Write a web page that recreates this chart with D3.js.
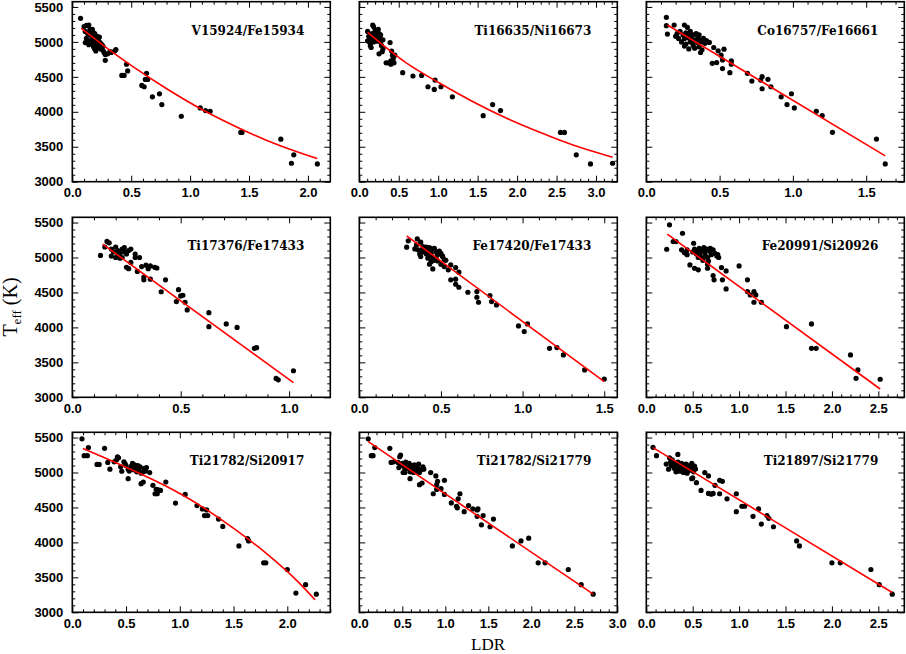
<!DOCTYPE html>
<html><head><meta charset="utf-8">
<script src="https://cdn.jsdelivr.net/npm/d3@7"></script>
<style>body{margin:0;background:#fff}</style>
</head><body>
<svg id="c" width="906" height="654"></svg>
<script>
// ---------- data ----------
const panelNames = ["V15924/Fe15934","Ti16635/Ni16673","Co16757/Fe16661",
  "Ti17376/Fe17433","Fe17420/Fe17433","Fe20991/Si20926",
  "Ti21782/Si20917","Ti21782/Si21779","Ti21897/Si21779"];
const xMax = [2.19, 3.27, 1.76, 1.19, 1.58, 2.78, 2.4, 3.0, 2.78];
const yTickLabels = [3000,3500,4000,4500,5000,5500];
const xTickLabels = [
  [0,0.5,1,1.5,2],[0,0.5,1,1.5,2,2.5,3],[0,0.5,1,1.5],
  [0,0.5,1],[0,0.5,1,1.5],[0,0.5,1,1.5,2,2.5],
  [0,0.5,1,1.5,2],[0,0.5,1,1.5,2,2.5,3],[0,0.5,1,1.5,2,2.5]];

const pts1 = [[0.07,5337],[0.10,5220],[0.12,5235],[0.14,5240],[0.11,5150],[0.13,5120],[0.15,5100],[0.16,5140],[0.17,5080],[0.18,5130],[0.19,5060],[0.20,5050],[0.21,5080],[0.22,5020],[0.23,5000],[0.24,4980],[0.25,4960],[0.12,5050],[0.13,4990],[0.14,4960],[0.15,5020],[0.16,5000],[0.17,4970],[0.18,4930],[0.19,4900],[0.20,4870],[0.22,4920],[0.24,4900],[0.26,4880],[0.27,4850],[0.28,4820],[0.30,4830],[0.32,4860],[0.26,4940],[0.18,5010],[0.20,4990],[0.21,4960],[0.11,4990],[0.23,5070],[0.19,5120],[0.17,5180],[0.15,5180],[0.28,4737],[0.33,4850],[0.36,4870],[0.37,4890],[0.42,4521],[0.44,4521],[0.46,4680],[0.47,4584],[0.59,4377],[0.61,4358],[0.62,4463],[0.63,4550],[0.64,4463],[0.68,4214],[0.74,4257],[0.76,4104],[0.925,3936],[1.086,4056],[1.13,4017],[1.17,4008],[1.43,3705],[1.44,3705],[1.77,3609],[1.86,3264],[1.88,3384],[2.08,3254]];
const pts2 = [[0.105,5150],[0.105,5015],[0.12,5080],[0.13,5000],[0.14,4950],[0.15,4920],[0.15,5060],[0.16,5120],[0.17,5240],[0.18,5220],[0.19,5100],[0.20,5050],[0.20,5170],[0.21,5130],[0.22,5080],[0.23,5150],[0.24,5180],[0.25,5120],[0.26,5060],[0.27,5000],[0.28,4950],[0.25,4830],[0.29,4860],[0.30,4900],[0.30,5030],[0.27,5100],[0.22,5010],[0.18,5000],[0.34,4700],[0.37,4700],[0.39,4990],[0.40,4730],[0.41,4870],[0.42,4810],[0.40,4680],[0.43,4760],[0.44,4700],[0.45,4810],[0.55,4560],[0.68,4512],[0.79,4521],[0.87,4358],[0.95,4320],[0.96,4454],[1.035,4358],[1.18,4214],[1.57,3945],[1.69,4104],[1.79,4017],[2.55,3705],[2.60,3705],[2.75,3384],[2.93,3254],[3.21,3264]];
const pts3 = [[0.137,5352],[0.137,5232],[0.144,5112],[0.19,5242],[0.26,5242],[0.28,5208],[0.20,5080],[0.21,5120],[0.22,5050],[0.23,5150],[0.24,5000],[0.25,5100],[0.26,5050],[0.27,5130],[0.27,4970],[0.28,5060],[0.29,5100],[0.30,5000],[0.30,5150],[0.31,5050],[0.32,4950],[0.32,5100],[0.33,5020],[0.34,5120],[0.35,5060],[0.35,4990],[0.36,5100],[0.37,5030],[0.38,5000],[0.39,5050],[0.40,4980],[0.41,5020],[0.29,4900],[0.26,4940],[0.33,4910],[0.36,4930],[0.37,4848],[0.38,4886],[0.43,4992],[0.46,4920],[0.45,4694],[0.48,4704],[0.49,4872],[0.51,4810],[0.52,4742],[0.53,4896],[0.52,4618],[0.57,4560],[0.58,4728],[0.58,4680],[0.69,4550],[0.72,4440],[0.78,4454],[0.79,4502],[0.79,4330],[0.83,4464],[0.85,4358],[0.92,4214],[0.96,4104],[0.99,4258],[1.01,4056],[1.16,4008],[1.20,3946],[1.27,3706],[1.57,3610],[1.63,3254]];
const pts4 = [[0.13,5030],[0.15,5150],[0.16,5230],[0.17,5210],[0.18,5120],[0.18,5020],[0.19,5080],[0.20,5000],[0.20,5150],[0.21,5100],[0.21,5030],[0.22,4990],[0.22,5060],[0.23,5120],[0.23,5000],[0.24,5080],[0.24,5140],[0.25,5050],[0.25,4860],[0.26,4840],[0.26,5100],[0.27,5120],[0.27,4930],[0.29,5000],[0.29,5050],[0.30,4800],[0.31,5000],[0.32,4870],[0.33,4720],[0.33,4680],[0.34,4890],[0.35,4840],[0.36,4690],[0.36,4880],[0.38,4860],[0.39,4850],[0.41,4510],[0.43,4680],[0.48,4370],[0.49,4540],[0.50,4450],[0.51,4460],[0.52,4360],[0.53,4250],[0.63,4210],[0.63,4010],[0.71,4050],[0.76,4000],[0.84,3700],[0.85,3710],[0.94,3270],[0.95,3250],[1.02,3380]];
const pts5 = [[0.29,5147],[0.30,5238],[0.34,5123],[0.355,5266],[0.376,5219],[0.36,5109],[0.386,5109],[0.39,5157],[0.376,5013],[0.39,5080],[0.40,5120],[0.41,5050],[0.42,5100],[0.42,4990],[0.43,5140],[0.44,5060],[0.45,5120],[0.45,5000],[0.46,5130],[0.46,4960],[0.47,5080],[0.48,5040],[0.48,4950],[0.49,5090],[0.50,5060],[0.51,5020],[0.52,4970],[0.53,4960],[0.44,4940],[0.47,4990],[0.41,5150],[0.43,5030],[0.37,5050],[0.35,5180],[0.43,4904],[0.45,4837],[0.50,4904],[0.51,5013],[0.52,4870],[0.545,4823],[0.56,4894],[0.59,4856],[0.61,4790],[0.56,4680],[0.59,4690],[0.59,4617],[0.61,4574],[0.665,4503],[0.72,4512],[0.72,4431],[0.73,4360],[0.80,4455],[0.81,4369],[0.84,4321],[0.975,4021],[1.01,3940],[1.03,4050],[1.165,3700],[1.21,3711],[1.25,3606],[1.38,3391],[1.50,3262]];
const pts6 = [[0.22,5118],[0.25,5467],[0.29,5228],[0.32,5228],[0.39,5347],[0.38,5110],[0.41,5070],[0.43,5060],[0.44,5109],[0.47,4894],[0.51,5204],[0.52,4846],[0.56,4823],[0.50,5080],[0.52,5120],[0.54,5050],[0.55,5100],[0.57,5130],[0.58,5060],[0.60,5000],[0.60,5110],[0.62,5140],[0.63,5070],[0.64,5020],[0.65,5120],[0.66,5000],[0.68,5090],[0.69,5130],[0.70,5040],[0.72,5110],[0.74,5060],[0.76,5020],[0.78,5000],[0.77,5040],[0.56,5000],[0.61,4960],[0.67,4950],[0.44,5040],[0.66,4846],[0.66,4904],[0.72,4741],[0.73,4680],[0.81,4856],[0.82,4680],[0.86,4808],[0.86,4550],[1.00,4880],[1.09,4680],[1.09,4512],[1.12,4465],[1.16,4512],[1.18,4465],[1.16,4360],[1.24,4360],[1.51,4011],[1.78,4050],[1.78,3700],[1.83,3700],[2.20,3606],[2.28,3391],[2.26,3272],[2.52,3258]];
const pts7 = [[0.09,5481],[0.11,5240],[0.14,5240],[0.15,5356],[0.23,5115],[0.25,5115],[0.30,5346],[0.33,5144],[0.35,5047],[0.39,5153],[0.41,5177],[0.42,5225],[0.43,5210],[0.45,5081],[0.46,5018],[0.48,5153],[0.49,5129],[0.52,4912],[0.52,5047],[0.55,5090],[0.57,5040],[0.58,5110],[0.59,5070],[0.60,5010],[0.61,5100],[0.62,5050],[0.63,5080],[0.64,4990],[0.50,5100],[0.53,5020],[0.56,5130],[0.66,5010],[0.68,5020],[0.64,4840],[0.66,4864],[0.67,5060],[0.69,5070],[0.72,4999],[0.75,4816],[0.77,4696],[0.79,4696],[0.78,4760],[0.80,4750],[0.82,4743],[0.87,4864],[0.96,4563],[1.05,4686],[1.16,4527],[1.21,4479],[1.23,4383],[1.26,4383],[1.25,4464],[1.36,4334],[1.40,4229],[1.55,3949],[1.63,4055],[1.64,4021],[1.78,3708],[1.80,3708],[2.00,3612],[2.08,3275],[2.17,3395],[2.27,3260]];
const pts8 = [[0.104,5481],[0.14,5240],[0.16,5240],[0.18,5356],[0.355,5346],[0.37,5144],[0.40,5153],[0.45,5144],[0.47,5225],[0.48,5250],[0.50,5130],[0.52,5090],[0.54,5150],[0.55,5060],[0.56,5110],[0.57,5080],[0.58,5130],[0.60,5040],[0.60,5100],[0.62,5070],[0.63,5000],[0.64,5110],[0.65,5050],[0.66,5090],[0.67,5020],[0.68,5060],[0.70,5000],[0.72,5040],[0.74,5080],[0.53,5000],[0.59,5010],[0.69,5120],[0.48,5100],[0.46,5070],[0.51,5000],[0.53,5050],[0.59,4912],[0.70,4826],[0.73,4850],[0.75,5047],[0.83,4999],[0.86,4696],[0.89,4951],[0.90,4826],[0.91,4874],[0.90,4758],[0.95,4768],[0.99,4888],[0.99,4686],[1.07,4565],[1.13,4517],[1.14,4493],[1.15,4623],[1.17,4696],[1.22,4440],[1.27,4527],[1.32,4479],[1.37,4464],[1.38,4479],[1.37,4373],[1.42,4252],[1.44,4383],[1.52,4224],[1.56,4334],[1.78,3949],[1.88,4021],[1.97,4060],[2.08,3708],[2.16,3708],[2.43,3612],[2.58,3395],[2.72,3260]];
const pts9 = [[0.072,5360],[0.11,5240],[0.215,5120],[0.24,5047],[0.25,5211],[0.26,5150],[0.27,5100],[0.28,5180],[0.29,5120],[0.30,5060],[0.31,5140],[0.32,5010],[0.33,5100],[0.34,5150],[0.35,5060],[0.36,5110],[0.37,5020],[0.38,5130],[0.39,5070],[0.40,5000],[0.41,5110],[0.42,5050],[0.43,5120],[0.44,4990],[0.45,5080],[0.46,5030],[0.47,5100],[0.48,5040],[0.49,5130],[0.50,5060],[0.51,5010],[0.52,5090],[0.53,5050],[0.34,5259],[0.34,5018],[0.49,4912],[0.54,4855],[0.50,4922],[0.59,4744],[0.63,4999],[0.67,4951],[0.67,4700],[0.70,4690],[0.72,4700],[0.74,4816],[0.79,4888],[0.82,4874],[0.79,4696],[0.87,4623],[0.97,4696],[0.97,4440],[1.03,4517],[1.06,4517],[1.15,4373],[1.21,4479],[1.24,4262],[1.30,4383],[1.32,4344],[1.37,4224],[1.62,4021],[1.65,3949],[2.00,3708],[2.09,3708],[2.42,3612],[2.51,3395],[2.65,3260]];

const fit1 = [[0.076,5193],[0.317,4882],[0.515,4646],[0.798,4333],[1.081,4051],[1.364,3808],[1.646,3594],[2.079,3331]];
const fit2 = [[0.105,5136],[0.59,4704],[1.01,4416],[1.43,4152],[1.86,3912],[2.28,3710],[2.70,3528],[3.21,3350]];
const fit3 = [[0.144,5242],[1.63,3370]];
const fit4 = [[0.14,5190],[1.02,3210]];
const fit5 = [[0.29,5309],[1.50,3224]];
const fit6 = [[0.226,5333],[2.52,3119]];
const fit7 = [[0.099,5345],[0.562,5033],[0.870,4806],[1.179,4537],[1.488,4214],[1.796,3853],[2.105,3429],[2.259,3178]];
const fit8 = [[0.104,5442],[2.72,3260]];
const fit9 = [[0.072,5355],[2.65,3284]];

const allPts = [pts1,pts2,pts3,pts4,pts5,pts6,pts7,pts8,pts9];
const allFits = [fit1,fit2,fit3,fit4,fit5,fit6,fit7,fit8,fit9];

// ---------- layout ----------
const colLeft = [72.3, 359.3, 646.3], panelW = 258;
const rowBottom = [181.7, 397.3, 612.3], panelH = 180;
const yDomain = [3000, 5575];
const tickFont = "'Liberation Sans', Arial, sans-serif";
const serif = "'Liberation Serif', 'Times New Roman', serif";

const svg = d3.select('#c');
svg.append('rect').attr('width',906).attr('height',654).attr('fill','#fff');

function styleAxis(s){
  s.select('.domain').remove();
  s.selectAll('line').attr('stroke','#000').attr('stroke-width',1);
  s.selectAll('text').attr('font-family',tickFont).attr('font-weight','bold')
   .attr('font-size',13).attr('fill','#000');
  s.attr('font-family',null).attr('font-size',null);
}

panelNames.forEach((name,i)=>{
  const c = i%3, r = Math.floor(i/3);
  const x0 = colLeft[c], y1 = rowBottom[r], y0 = y1-panelH;
  const x = d3.scaleLinear().domain([0,xMax[i]]).range([x0,x0+panelW]);
  const y = d3.scaleLinear().domain(yDomain).range([y1,y0]);
  const g = svg.append('g');

  const xMinor = d3.range(0, Math.round(xMax[i]*10)+1).map(k=>k/10).filter(v=>Math.round(v*10)%5!==0 && v<=xMax[i]);
  const xMajor = d3.range(0, Math.floor(xMax[i]/0.5+1e-9)+1).map(k=>k*0.5);
  const yMinor = d3.range(3000,5576,100).filter(v=>v%500!==0);
  const yMajor = yTickLabels;

  g.append('g').attr('transform',`translate(0,${y1})`)
   .call(d3.axisBottom(x).tickValues(xMinor).tickSize(-3).tickFormat('')).call(styleAxis);
  g.append('g').attr('transform',`translate(0,${y1})`)
   .call(d3.axisBottom(x).tickValues(xMajor).tickSize(-6).tickFormat('')).call(styleAxis);
  g.append('g').attr('transform',`translate(0,${y1})`)
   .call(d3.axisBottom(x).tickValues(xTickLabels[i]).tickSize(0).tickPadding(6).tickFormat(d3.format('.1f'))).call(styleAxis);
  g.append('g').attr('transform',`translate(0,${y0})`)
   .call(d3.axisTop(x).tickValues(xMinor).tickSize(-3).tickFormat('')).call(styleAxis);
  g.append('g').attr('transform',`translate(0,${y0})`)
   .call(d3.axisTop(x).tickValues(xMajor).tickSize(-6).tickFormat('')).call(styleAxis);
  g.append('g').attr('transform',`translate(${x0},0)`)
   .call(d3.axisLeft(y).tickValues(yMinor).tickSize(-3).tickFormat('')).call(styleAxis);
  g.append('g').attr('transform',`translate(${x0},0)`)
   .call(d3.axisLeft(y).tickValues(yMajor).tickSize(-6).tickFormat('')).call(styleAxis);
  if(c===0){
    g.append('g').attr('transform',`translate(${x0},0)`)
     .call(d3.axisLeft(y).tickValues(yTickLabels).tickSize(0).tickPadding(9).tickFormat(d3.format('d'))).call(styleAxis);
  }
  g.append('g').attr('transform',`translate(${x0+panelW},0)`)
   .call(d3.axisRight(y).tickValues(yMinor).tickSize(-3).tickFormat('')).call(styleAxis);
  g.append('g').attr('transform',`translate(${x0+panelW},0)`)
   .call(d3.axisRight(y).tickValues(yMajor).tickSize(-6).tickFormat('')).call(styleAxis);

  g.append('rect').attr('x',x0).attr('y',y0).attr('width',panelW).attr('height',panelH)
   .attr('fill','none').attr('stroke','#000').attr('stroke-width',1.6);

  g.append('g').selectAll('circle').data(allPts[i]).join('circle')
   .attr('cx',d=>x(d[0])).attr('cy',d=>y(d[1])).attr('r',2.6).attr('fill','#000');

  g.append('path').datum(allFits[i])
   .attr('d', d3.line().x(d=>x(d[0])).y(d=>y(d[1])).curve(d3.curveMonotoneX))
   .attr('fill','none').attr('stroke','#ff0000').attr('stroke-width',1.6);

  g.append('text').attr('x',x0+232).attr('y',y0+33).attr('text-anchor','end')
   .attr('font-family',"'DejaVu Serif', serif").attr('font-weight','bold')
   .attr('font-size',12).attr('fill','#000').text(name);
});

const yt = svg.append('text').attr('transform','translate(17,307) rotate(-90)')
  .attr('text-anchor','middle').attr('font-family',serif).attr('font-size',20).attr('fill','#000');
yt.append('tspan').text('T');
yt.append('tspan').attr('font-size',13).attr('dy',4).text('eff');
yt.append('tspan').attr('dy',-4).text('\u00a0(K)');

svg.append('text').attr('x',488).attr('y',650).attr('text-anchor','middle')
  .attr('font-family',serif).attr('font-size',17).attr('fill','#000').text('LDR');
</script>
</body></html>
